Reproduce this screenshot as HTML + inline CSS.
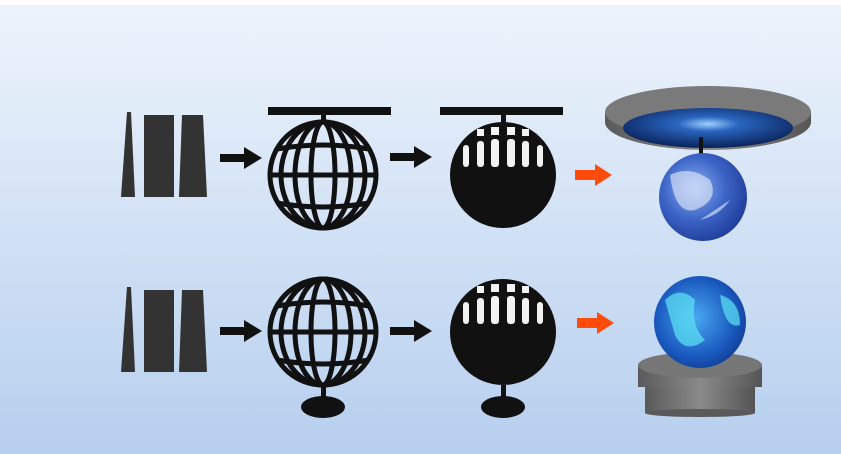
<!DOCTYPE html>
<html><head><style>body{margin:0}svg{display:block}</style></head><body>
<svg width="841" height="454" viewBox="0 0 841 454" xmlns="http://www.w3.org/2000/svg">
<defs>
<linearGradient id="bg" x1="0" y1="0" x2="0" y2="1"><stop offset="0" stop-color="#eef4fc"/><stop offset="1" stop-color="#b6cfee"/></linearGradient>
<linearGradient id="gray" x1="0" y1="0" x2="1" y2="0"><stop offset="0" stop-color="#5a5a5a"/><stop offset=".5" stop-color="#8a8a8a"/><stop offset="1" stop-color="#555"/></linearGradient>
<radialGradient id="earth" cx=".4" cy=".4" r=".7"><stop offset="0" stop-color="#8fb0f0"/><stop offset=".5" stop-color="#3d66c8"/><stop offset="1" stop-color="#1a3590"/></radialGradient>
<radialGradient id="earth2" cx=".45" cy=".45" r=".7"><stop offset="0" stop-color="#4aa8f0"/><stop offset=".6" stop-color="#1a5bc0"/><stop offset="1" stop-color="#0c2c80"/></radialGradient>
<radialGradient id="sky" cx=".5" cy=".4" r=".6"><stop offset="0" stop-color="#9fd0ff"/><stop offset=".3" stop-color="#2a66c0"/><stop offset="1" stop-color="#0a2258"/></radialGradient>
<g id="panels" fill="#333">
<polygon points="127,0 131,0 135,85 121,85"/>
<rect x="144" y="3" width="30" height="82"/>
<polygon points="182,3 203,3 207,85 179,85"/>
</g>
<g id="cage">
<circle r="53" fill="none" stroke="#111" stroke-width="5"/>
<g stroke="#111" stroke-width="5" fill="none">
<ellipse rx="12" ry="53"/><ellipse rx="28" ry="53"/><ellipse rx="42" ry="53"/>
<line x1="-53" y1="0" x2="53" y2="0"/><path d="M-46,-26 Q0,-34 46,-26"/><path d="M-46,28 Q0,36 46,28"/>
</g>
</g>
<g id="half">
<circle r="53" fill="#111"/>
<g fill="#fff" opacity=".95">
<rect x="-40" y="-30" width="6" height="22" rx="3"/><rect x="-26" y="-34" width="7" height="26" rx="3"/><rect x="-12" y="-36" width="8" height="28" rx="3"/><rect x="4" y="-36" width="8" height="28" rx="3"/><rect x="19" y="-34" width="7" height="26" rx="3"/><rect x="34" y="-30" width="6" height="22" rx="3"/>
<rect x="-26" y="-46" width="7" height="7"/><rect x="-12" y="-48" width="8" height="8"/><rect x="4" y="-48" width="8" height="8"/><rect x="19" y="-46" width="7" height="7"/>
</g>
</g>
<g id="arr"><rect x="0" y="-4" width="26" height="8" fill="#111"/><polygon points="24,-11 42,0 24,11" fill="#111"/></g>
<g id="oarr"><rect x="0" y="-5" width="22" height="10" fill="#ff4c0c"/><polygon points="20,-11 37,0 20,11" fill="#ff4c0c"/></g>
</defs>
<rect width="841" height="454" fill="url(#bg)"/>
<rect width="841" height="5" fill="#fff"/>
<!-- row1 -->
<use href="#panels" transform="translate(0,112)"/>
<use href="#arr" transform="translate(220,158)"/>
<rect x="268" y="107" width="123" height="8" fill="#111"/><rect x="321" y="114" width="5" height="10" fill="#111"/>
<use href="#cage" transform="translate(323,175)"/>
<use href="#arr" transform="translate(390,157)"/>
<rect x="440" y="107" width="123" height="8" fill="#111"/><rect x="501" y="114" width="5" height="10" fill="#111"/>
<use href="#half" transform="translate(503,175)"/>
<use href="#oarr" transform="translate(575,175)"/>
<path d="M605,112 L605,122 A103,28 0 0 0 811,122 L811,112 Z" fill="url(#gray)"/>
<ellipse cx="708" cy="112" rx="103" ry="26" fill="#7a7a7a"/>
<ellipse cx="708" cy="128" rx="85" ry="20" fill="url(#sky)"/>
<rect x="699" y="137" width="4" height="18" fill="#111"/>
<circle cx="703" cy="197" r="44" fill="url(#earth)"/>
<path d="M670,175 q20,-10 40,5 q10,20 -15,30 q-20,5 -25,-35z M700,220 q20,-5 30,-20" fill="#e8eefa" opacity=".6"/>
<!-- row2 -->
<use href="#panels" transform="translate(0,287)"/>
<use href="#arr" transform="translate(220,331)"/>
<rect x="321" y="385" width="5" height="14" fill="#111"/>
<ellipse cx="323" cy="407" rx="22" ry="11" fill="#111"/>
<use href="#cage" transform="translate(323,332)"/>
<use href="#arr" transform="translate(390,331)"/>
<rect x="501" y="385" width="5" height="14" fill="#111"/>
<ellipse cx="503" cy="407" rx="22" ry="11" fill="#111"/>
<use href="#half" transform="translate(503,332)"/>
<use href="#oarr" transform="translate(577,323)"/>
<rect x="645" y="383" width="110" height="30" fill="url(#gray)"/>
<ellipse cx="700" cy="413" rx="55" ry="4" fill="#5a5a5a"/>
<rect x="638" y="365" width="124" height="22" fill="url(#gray)"/>
<ellipse cx="700" cy="365" rx="62" ry="13" fill="#777"/>
<circle cx="700" cy="322" r="46" fill="url(#earth2)"/>
<path d="M665,300 q15,-15 30,0 q-5,25 10,40 q-20,15 -30,-5z M720,295 q20,5 20,30 q-15,5 -20,-30z" fill="#5ee4f5" opacity=".7"/>
</svg>
</body></html>
